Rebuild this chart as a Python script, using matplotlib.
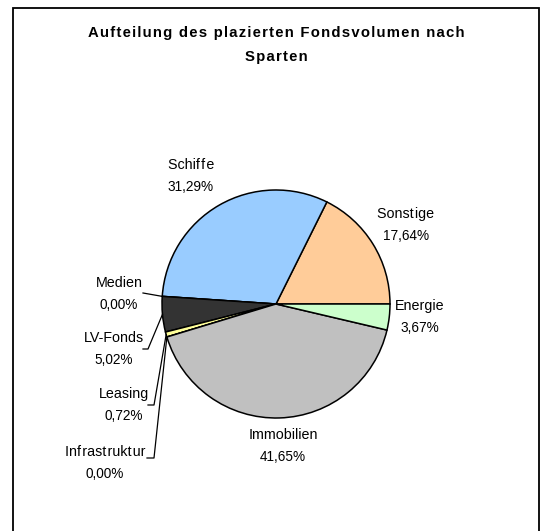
import numpy as np
import matplotlib
import matplotlib.pyplot as plt
from matplotlib.patches import Rectangle

matplotlib.use('Agg')

plt.rcParams['font.family'] = ['Liberation Sans', 'DejaVu Sans']

# Data (counter-clockwise from 3 o'clock)
CATEGORIES = ["Sonstige", "Schiffe", "Medien", "LV-Fonds", "Leasing",
              "Infrastruktur", "Immobilien", "Energie"]
SHARES = [17.64, 31.29, 0.00, 5.02, 0.72, 0.00, 41.65, 3.67]
SHARE_LABELS = ["17,64%", "31,29%", "0,00%", "5,02%", "0,72%",
                "0,00%", "41,65%", "3,67%"]
COLORS = ["#FFCC99", "#99CCFF", "#993366", "#333333", "#FFFF99",
          "#CCFFFF", "#C0C0C0", "#CCFFCC"]

TITLE_1 = "Aufteilung des plazierten Fondsvolumen nach"
TITLE_2 = "Sparten"

# Layout in pixel space (y measured from the top of the image)
W, H = 549, 531
CENTER = (276, 304)
RADIUS = 114
LABEL_POS = [(406, 214), (191, 165), (119, 283), (114, 338),
             (124, 394), (105, 452), (283, 435), (420, 306)]
# leader line start points (None = no leader)
LEADERS = [None, None, [(143, 293)], [(143, 349), (148, 349)],
           [(148, 405), (154, 405)], [(147, 458), (154, 458)], None, None]

HAIR = "\u200a"


def fy(y):
    return H - y


def spaced(s):
    # wide letter spacing like the original title
    return HAIR.join(s)


def loose(s):
    # the original puts small gaps after 'f' and 't'
    return "".join(c + HAIR if c in "ft" else c for c in s).rstrip(HAIR)


fig = plt.figure(figsize=(W / 100, H / 100), dpi=100)
ax = fig.add_axes([0, 0, 1, 1])

wedges, _ = ax.pie(SHARES, colors=COLORS, startangle=0, counterclock=True,
                   center=(CENTER[0], fy(CENTER[1])), radius=RADIUS,
                   wedgeprops=dict(edgecolor='black', linewidth=1.1))
ax.set_xlim(0, W)
ax.set_ylim(0, H)
ax.set_aspect('equal')
ax.axis('off')

# chart border
ax.add_patch(Rectangle((13, -10), 526, H - 8 + 10, fill=False,
                       edgecolor='black', linewidth=1.3, zorder=0))

ax.text(276, fy(33), spaced(TITLE_1), ha='center', va='center',
        fontsize=10.7, fontweight='bold')
ax.text(276, fy(57), spaced(TITLE_2), ha='center', va='center',
        fontsize=10.7, fontweight='bold')

for i, w in enumerate(wedges):
    lx, ly = LABEL_POS[i]
    ax.text(lx, fy(ly), loose(CATEGORIES[i]), ha='center', va='center',
            fontsize=10.3)
    ax.text(lx, fy(ly + 22), SHARE_LABELS[i], ha='center', va='center',
            fontsize=9.8)
    if LEADERS[i]:
        mid = np.deg2rad((w.theta1 + w.theta2) / 2)
        ex = CENTER[0] + RADIUS * np.cos(mid)
        ey = fy(CENTER[1]) + RADIUS * np.sin(mid)
        xs = [p[0] for p in LEADERS[i]] + [ex]
        ys = [fy(p[1]) for p in LEADERS[i]] + [ey]
        ax.plot(xs, ys, color='black', linewidth=0.9)

fig.savefig('out.png', dpi=100)
plt.close(fig)
